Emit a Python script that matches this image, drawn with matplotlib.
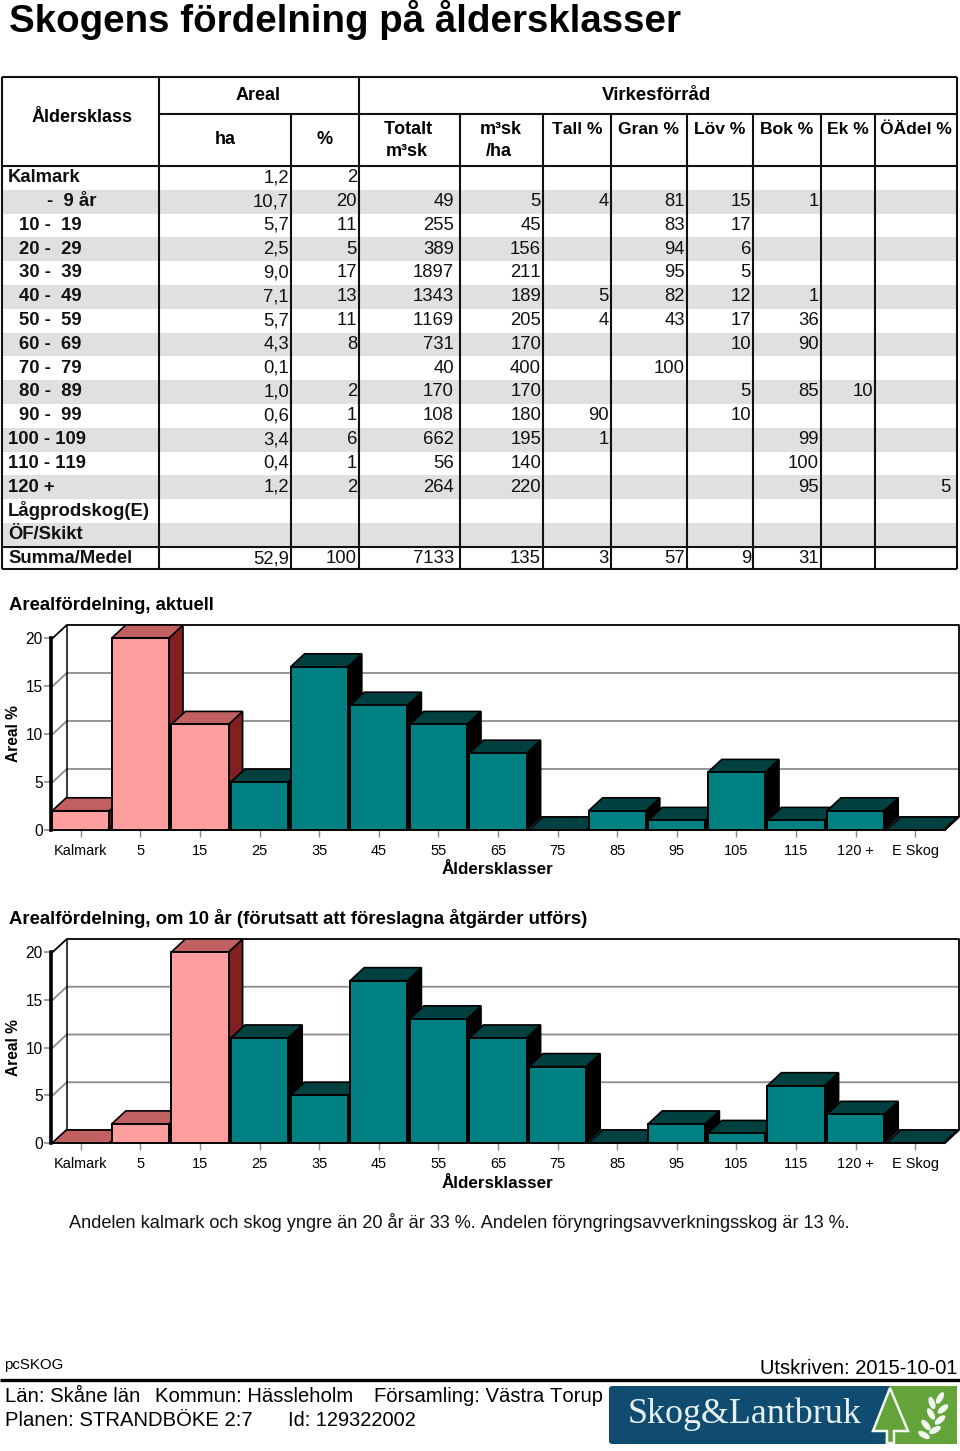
# -*- coding: utf-8 -*-
import matplotlib
matplotlib.use("Agg")
import matplotlib.pyplot as plt
from matplotlib.patches import Polygon, Rectangle, FancyBboxPatch, Ellipse

SANS = ["Liberation Sans", "DejaVu Sans"]
plt.rcParams["font.family"] = SANS
plt.rcParams["text.kerning_factor"] = 6

# tabell
klass = ["Kalmark", "-  9 år", "10 -  19", "20 -  29", "30 -  39", "40 -  49", "50 -  59",
         "60 -  69", "70 -  79", "80 -  89", "90 -  99", "100 - 109", "110 - 119", "120 +",
         "Lågprodskog(E)", "ÖF/Skikt", "Summa/Medel"]
ha = ["1,2", "10,7", "5,7", "2,5", "9,0", "7,1", "5,7", "4,3", "0,1", "1,0", "0,6", "3,4", "0,4", "1,2", "", "", "52,9"]
pct = ["2", "20", "11", "5", "17", "13", "11", "8", "", "2", "1", "6", "1", "2", "", "", "100"]
totalt = ["", "49", "255", "389", "1897", "1343", "1169", "731", "40", "170", "108", "662", "56", "264", "", "", "7133"]
m3ha = ["", "5", "45", "156", "211", "189", "205", "170", "400", "170", "180", "195", "140", "220", "", "", "135"]
tall = ["", "4", "", "", "", "5", "4", "", "", "", "90", "1", "", "", "", "", "3"]
gran = ["", "81", "83", "94", "95", "82", "43", "", "100", "", "", "", "", "", "", "", "57"]
lov = ["", "15", "17", "6", "5", "12", "17", "10", "", "5", "10", "", "", "", "", "", "9"]
bok = ["", "1", "", "", "", "1", "36", "90", "", "85", "", "99", "100", "95", "", "", "31"]
ek = ["", "", "", "", "", "", "", "", "", "10", "", "", "", "", "", "", ""]
oadel = ["", "", "", "", "", "", "", "", "", "", "", "", "", "5", "", "", ""]
kolumner = [ha, pct, totalt, m3ha, tall, gran, lov, bok, ek, oadel]
rubriker = ["ha", "%", "Totalt\nm³sk", "m³sk\n/ha", "Tall %", "Gran %", "Löv %", "Bok %", "Ek %", "ÖÄdel %"]

# diagram
kategorier = ["Kalmark", "5", "15", "25", "35", "45", "55", "65", "75", "85", "95", "105", "115", "120 +", "E Skog"]
areal_aktuell = [2, 20, 11, 5, 17, 13, 11, 8, 0, 2, 1, 6, 1, 2, 0]
areal_10ar = [0, 2, 20, 11, 5, 17, 13, 11, 8, 0, 2, 1, 6, 3, 0]
ungskog_aktuell = [0, 1, 2]
ungskog_10ar = [0, 1, 2]

W, H = 960, 1451
fig = plt.figure(figsize=(W / 100, H / 100), dpi=100, facecolor="white")

# hela sidan i pixlar
page = fig.add_axes([0, 0, 1, 1])
page.set_xlim(0, W)
page.set_ylim(H, 0)
page.axis("off")


def px(size):
    return size * 0.72


page.text(9, 32, "Skogens fördelning på åldersklasser", fontsize=px(38.5), fontweight="bold", va="baseline")

# --- tabellen ---
kanter = [2, 159, 291, 359, 460, 543, 611, 687, 753, 821, 875, 957]
marginal = [2, 2, 6, 2, 2, 2, 2, 2, 2, 6]
rad_topp = 166
rad_h = 23.8
for i in range(len(klass)):
    if i % 2 == 1 and i < 16:
        page.add_patch(Rectangle((2, rad_topp + i * rad_h), 955, rad_h, color="#e0e0e0", lw=0))
    y = rad_topp + (i + 0.45) * rad_h
    namn = klass[i]
    if namn.startswith("-"):
        x0 = 47
    elif namn[:2].isdigit() and not namn[:3].isdigit():
        x0 = 19
    else:
        x0 = 8
    page.text(x0, y + 1, namn, fontsize=px(18.5), fontweight="bold", va="center", color="#111111")
    for k, kol in enumerate(kolumner):
        if kol[i]:
            page.text(kanter[k + 2] - marginal[k], y + 1, kol[i], fontsize=px(18.5), ha="right", va="center", color="#111111")

linje = dict(color="#111111", lw=1.5, solid_capstyle="butt")
botten = 569
page.plot([2, 957], [77, 77], **linje)
page.plot([159, 957], [114, 114], **linje)
page.plot([2, 957], [166, 166], **linje)
page.plot([2, 957], [547, 547], **linje)
page.plot([2, 957], [botten, botten], **linje)
for x in [2, 159, 359, 957]:
    page.plot([x, x], [77, botten], **linje)
for x in kanter[2:3] + kanter[4:-1]:
    page.plot([x, x], [114, botten], **linje)

page.text(82, 117, "Åldersklass", fontsize=px(18), fontweight="bold", ha="center", va="center")
page.text(258, 95, "Areal", fontsize=px(18), fontweight="bold", ha="center", va="center")
page.text(657, 95, "Virkesförråd", fontsize=px(18.5), fontweight="bold", ha="center", va="center")
for k, rub in enumerate(rubriker):
    xm = (kanter[k + 1] + kanter[k + 2]) / 2
    if k < 2:
        page.text(xm, 140, rub, fontsize=px(18), fontweight="bold", ha="center", va="center")
    elif k < 4:
        a, b = rub.split("\n")
        page.text(xm - 1, 130, a, fontsize=px(18), fontweight="bold", ha="center", va="center")
        page.text(xm - 3, 152, b, fontsize=px(18), fontweight="bold", ha="center", va="center")
    else:
        page.text(xm, 130, rub, fontsize=px(17.5), fontweight="bold", ha="center", va="center")

# --- diagrammen ---
FARG_ROSA = ("#ff9e9e", "#c06060", "#802020")
FARG_TEAL = ("#008080", "#004040", "#000000")


def stapel_diagram(y0_px, y20_px, varden, rosa):
    enhet = (y0_px - y20_px) / 20.0
    steg = 59.6
    dx_px, dy_px = 14, 13
    ytopp_px = y20_px - dy_px
    vanster, hoger = 51, 959
    ax = fig.add_axes([vanster / W, 1 - y0_px / H, (hoger - vanster) / W, (y0_px - ytopp_px) / H])
    ax.set_xlim(-0.5, -0.5 + (hoger - vanster) / steg)
    ax.set_ylim(0, (y0_px - ytopp_px) / enhet)
    ax.patch.set_alpha(0)
    dx = dx_px / steg
    dy = dy_px / enhet
    xv = -0.47
    xh = len(varden) - 0.5
    # vaggar och rutnat
    for v in [5, 10, 15]:
        ax.plot([xv, xv + dx, xh + dx], [v, v + dy, v + dy], color="#8c8c8c", lw=1.3, zorder=1)
    ax.plot([xv, xv + dx, xh + dx, xh + dx, xh], [20, 20 + dy, 20 + dy, dy, 0], color="black", lw=1.3, zorder=1, clip_on=False)
    ax.plot([xv + dx, xv + dx, xh + dx], [20 + dy, dy, dy], color="black", lw=1.1, zorder=1)
    ax.plot([xv, xv + dx], [0, dy], color="black", lw=1.1, zorder=1)
    # staplar, fran vanster till hoger
    b = 0.96
    for i, v in enumerate(varden):
        fram, topp, sida = FARG_ROSA if i in rosa else FARG_TEAL
        z = 2 + i
        xa, xb = i - b / 2, i + b / 2
        ax.add_patch(Polygon([(xb, 0), (xb + dx, dy), (xb + dx, v + dy), (xb, v)], facecolor=sida, edgecolor="black", lw=1.2, zorder=z, clip_on=False))
        ax.add_patch(Polygon([(xa, v), (xa + dx, v + dy), (xb + dx, v + dy), (xb, v)], facecolor=topp, edgecolor="black", lw=1.2, zorder=z, clip_on=False))
        if v > 0:
            ax.bar(i, v, width=b, color=fram, edgecolor="black", linewidth=1.4, zorder=z + 0.5)
    for s in ["top", "right"]:
        ax.spines[s].set_visible(False)
    ax.spines["left"].set_bounds(0, 20)
    ax.spines["left"].set_linewidth(2.6)
    ax.spines["left"].set_zorder(40)
    ax.spines["bottom"].set_bounds(-0.5, len(varden) - 0.5)
    ax.spines["bottom"].set_linewidth(1.4)
    ax.spines["bottom"].set_zorder(40)
    ax.set_yticks([0, 5, 10, 15, 20])
    ax.set_xticks(range(len(kategorier)))
    ax.set_xticklabels(kategorier, fontsize=px(14.5))
    ax.tick_params(axis="y", length=5, width=1.2, color="#8c8c8c", labelsize=px(15.5), pad=1)
    ax.tick_params(axis="x", length=5, width=1, color="#8c8c8c", pad=5)
    page.text(14, (y0_px + y20_px) / 2, "Areal %", rotation=90, fontsize=px(15.5), fontweight="bold", ha="center", va="center")
    page.text(497, y0_px + 40, "Åldersklasser", fontsize=px(17), fontweight="bold", ha="center", va="center")


page.text(9, 606, "Arealfördelning, aktuell", fontsize=px(18.5), fontweight="bold", va="center")
stapel_diagram(830, 638, areal_aktuell, ungskog_aktuell)
page.text(9, 919, "Arealfördelning, om 10 år (förutsatt att föreslagna åtgärder utförs)", fontsize=px(18.5), fontweight="bold", va="center")
stapel_diagram(1143, 952, areal_10ar, ungskog_10ar)

page.text(69, 1222, "Andelen kalmark och skog yngre än 20 år är 33 %. Andelen föryngringsavverkningsskog är 13 %.",
          fontsize=px(18.2), va="center", color="#111111")

# --- sidfot ---
page.text(4, 1365, "pcSKOG", fontsize=px(15), va="center")
page.text(957, 1368, "Utskriven: 2015-10-01", fontsize=px(20.2), ha="right", va="center")
page.plot([0, 960], [1380, 1380], color="black", lw=2.4, solid_capstyle="butt")
page.text(5, 1397, "Län: Skåne län", fontsize=px(20.3), va="center")
page.text(155, 1397, "Kommun: Hässleholm", fontsize=px(20.3), va="center")
page.text(374, 1397, "Församling: Västra Torup", fontsize=px(20.3), va="center")
page.text(5, 1420, "Planen: STRANDBÖKE 2:7", fontsize=px(20.3), va="center")
page.text(288, 1420, "Id: 129322002", fontsize=px(20), va="center")

# logga
BLA = "#0f4c70"
GRON = "#64a23a"
page.add_patch(FancyBboxPatch((609, 1386), 348, 58, boxstyle="round,pad=0,rounding_size=3", facecolor=BLA, edgecolor="none", zorder=5))
page.add_patch(Polygon([(889, 1386), (957, 1386), (957, 1444), (885, 1444)], facecolor=GRON, edgecolor="none", zorder=6))
page.add_patch(Polygon([(890, 1388), (908, 1431), (894, 1431), (894, 1443), (887, 1443), (887, 1431), (873, 1431)],
                       facecolor=GRON, edgecolor="#f0f5ee", lw=1.8, zorder=7))
page.add_patch(Polygon([(890, 1387), (873, 1431), (860, 1444), (860, 1386)], facecolor=BLA, edgecolor="none", zorder=6))
page.text(628, 1414, "Skog&Lantbruk", family=["Liberation Serif", "DejaVu Serif"], fontsize=px(36), color="#e6f0f2", va="center", zorder=8)
# blad
for (x, y, ang) in [(940, 1398, 60), (932, 1403, 110), (943, 1409, 40), (931, 1414, 120), (940, 1420, 40), (926, 1425, 130), (935, 1430, 30), (924, 1435, 150)]:
    page.add_patch(Ellipse((x, y), 13, 6, angle=-ang, facecolor="#f0f5ee", edgecolor="none", zorder=8))

fig.savefig("out.png", dpi=100)
